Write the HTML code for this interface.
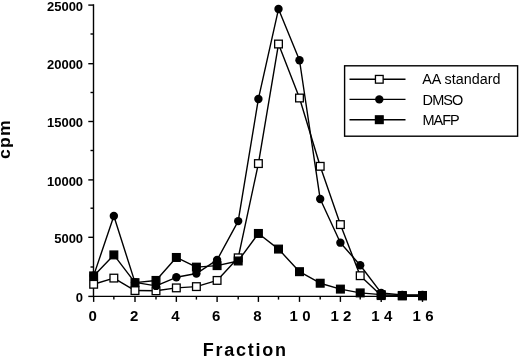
<!DOCTYPE html>
<html><head><meta charset="utf-8"><title>Fraction cpm chart</title>
<style>
html,body{margin:0;padding:0;background:#fff;}
body{width:520px;height:358px;overflow:hidden;}
svg{display:block;}
text{font-family:"Liberation Sans",Arial,Helvetica,sans-serif;fill:#000;}
.b{font-weight:bold;}
</style></head><body>
<svg width="520" height="358" viewBox="0 0 520 358">
<rect width="520" height="358" fill="#fff"/>

<g stroke="#000" stroke-width="1.4" fill="none" stroke-linecap="butt">
<path d="M93.5 4.35 V296.4 H423.15"/>
<path d="M88.3 296.40 H93.5"/>
<path d="M90.5 267.00 H93.5"/>
<path d="M88.3 237.30 H93.5"/>
<path d="M90.5 208.20 H93.5"/>
<path d="M88.3 179.90 H93.5"/>
<path d="M90.5 150.50 H93.5"/>
<path d="M88.3 121.50 H93.5"/>
<path d="M90.5 92.50 H93.5"/>
<path d="M88.3 63.70 H93.5"/>
<path d="M90.5 34.00 H93.5"/>
<path d="M88.3 5.10 H93.5"/>
<path d="M93.65 296.4 V301.9"/>
<path d="M113.85 296.4 V299.59999999999997"/>
<path d="M135.00 296.4 V301.9"/>
<path d="M156.00 296.4 V299.59999999999997"/>
<path d="M176.35 296.4 V301.9"/>
<path d="M196.40 296.4 V299.59999999999997"/>
<path d="M217.10 296.4 V301.9"/>
<path d="M238.20 296.4 V299.59999999999997"/>
<path d="M258.40 296.4 V301.9"/>
<path d="M278.50 296.4 V299.59999999999997"/>
<path d="M299.50 296.4 V301.9"/>
<path d="M320.20 296.4 V299.59999999999997"/>
<path d="M340.40 296.4 V301.9"/>
<path d="M360.20 296.4 V299.59999999999997"/>
<path d="M381.20 296.4 V301.9"/>
<path d="M402.30 296.4 V299.59999999999997"/>
<path d="M422.50 296.4 V301.9"/>
</g>
<text class="b" x="83.1" y="302.10" font-size="13" text-anchor="end">0</text>
<text class="b" x="83.1" y="243.00" font-size="13" text-anchor="end">5000</text>
<text class="b" x="83.1" y="185.60" font-size="13" text-anchor="end">10000</text>
<text class="b" x="83.1" y="127.20" font-size="13" text-anchor="end">15000</text>
<text class="b" x="83.1" y="69.40" font-size="13" text-anchor="end">20000</text>
<text class="b" x="83.1" y="10.80" font-size="13" text-anchor="end">25000</text>
<text class="b" x="92.75" y="320.8" font-size="15" text-anchor="middle">0</text>
<text class="b" x="134.10" y="320.8" font-size="15" text-anchor="middle">2</text>
<text class="b" x="175.45" y="320.8" font-size="15" text-anchor="middle">4</text>
<text class="b" x="216.20" y="320.8" font-size="15" text-anchor="middle">6</text>
<text class="b" x="257.50" y="320.8" font-size="15" text-anchor="middle">8</text>
<text class="b" x="300.50" y="320.8" font-size="15" text-anchor="middle" letter-spacing="4.3" dx="1.7">10</text>
<text class="b" x="341.40" y="320.8" font-size="15" text-anchor="middle" letter-spacing="4.3" dx="1.7">12</text>
<text class="b" x="382.20" y="320.8" font-size="15" text-anchor="middle" letter-spacing="4.3" dx="1.7">14</text>
<text class="b" x="423.50" y="320.8" font-size="15" text-anchor="middle" letter-spacing="4.3" dx="1.7">16</text>
<text class="b" x="245.2" y="355.8" font-size="18" text-anchor="middle" letter-spacing="1.75">Fraction</text>
<text class="b" transform="translate(10.2,139) rotate(-90) scale(1.04,1)" font-size="17" text-anchor="middle" letter-spacing="1.2">cpm</text>
<polyline points="93.65,284.28 113.85,278.10 135.00,290.57 156.00,290.81 176.35,287.89 196.40,286.61 217.10,280.43 238.20,257.82 258.40,163.58 278.50,44.02 299.50,98.01 320.20,166.32 340.40,224.60 360.20,275.71 381.20,295.58 402.30,295.93 422.50,295.93" fill="none" stroke="#000" stroke-width="1.4" stroke-linejoin="round"/>
<rect x="89.80" y="280.43" width="7.7" height="7.7" fill="#fff" stroke="#000" stroke-width="1.3"/>
<rect x="110.00" y="274.25" width="7.7" height="7.7" fill="#fff" stroke="#000" stroke-width="1.3"/>
<rect x="131.15" y="286.72" width="7.7" height="7.7" fill="#fff" stroke="#000" stroke-width="1.3"/>
<rect x="152.15" y="286.96" width="7.7" height="7.7" fill="#fff" stroke="#000" stroke-width="1.3"/>
<rect x="172.50" y="284.04" width="7.7" height="7.7" fill="#fff" stroke="#000" stroke-width="1.3"/>
<rect x="192.55" y="282.76" width="7.7" height="7.7" fill="#fff" stroke="#000" stroke-width="1.3"/>
<rect x="213.25" y="276.58" width="7.7" height="7.7" fill="#fff" stroke="#000" stroke-width="1.3"/>
<rect x="234.35" y="253.97" width="7.7" height="7.7" fill="#fff" stroke="#000" stroke-width="1.3"/>
<rect x="254.55" y="159.73" width="7.7" height="7.7" fill="#fff" stroke="#000" stroke-width="1.3"/>
<rect x="274.65" y="40.17" width="7.7" height="7.7" fill="#fff" stroke="#000" stroke-width="1.3"/>
<rect x="295.65" y="94.16" width="7.7" height="7.7" fill="#fff" stroke="#000" stroke-width="1.3"/>
<rect x="316.35" y="162.47" width="7.7" height="7.7" fill="#fff" stroke="#000" stroke-width="1.3"/>
<rect x="336.55" y="220.75" width="7.7" height="7.7" fill="#fff" stroke="#000" stroke-width="1.3"/>
<rect x="356.35" y="271.86" width="7.7" height="7.7" fill="#fff" stroke="#000" stroke-width="1.3"/>
<rect x="377.35" y="291.73" width="7.7" height="7.7" fill="#fff" stroke="#000" stroke-width="1.3"/>
<rect x="398.45" y="292.08" width="7.7" height="7.7" fill="#fff" stroke="#000" stroke-width="1.3"/>
<rect x="418.65" y="292.08" width="7.7" height="7.7" fill="#fff" stroke="#000" stroke-width="1.3"/>
<polyline points="93.65,275.65 113.85,216.03 135.00,282.41 156.00,285.91 176.35,277.28 196.40,273.55 217.10,259.92 238.20,221.10 258.40,98.95 278.50,9.03 299.50,60.25 320.20,199.07 340.40,242.67 360.20,265.28 381.20,292.90 402.30,294.94 422.50,295.00" fill="none" stroke="#000" stroke-width="1.4" stroke-linejoin="round"/>
<circle cx="93.65" cy="275.65" r="4.2" fill="#000"/>
<circle cx="113.85" cy="216.03" r="4.2" fill="#000"/>
<circle cx="135.00" cy="282.41" r="4.2" fill="#000"/>
<circle cx="156.00" cy="285.91" r="4.2" fill="#000"/>
<circle cx="176.35" cy="277.28" r="4.2" fill="#000"/>
<circle cx="196.40" cy="273.55" r="4.2" fill="#000"/>
<circle cx="217.10" cy="259.92" r="4.2" fill="#000"/>
<circle cx="238.20" cy="221.10" r="4.2" fill="#000"/>
<circle cx="258.40" cy="98.95" r="4.2" fill="#000"/>
<circle cx="278.50" cy="9.03" r="4.2" fill="#000"/>
<circle cx="299.50" cy="60.25" r="4.2" fill="#000"/>
<circle cx="320.20" cy="199.07" r="4.2" fill="#000"/>
<circle cx="340.40" cy="242.67" r="4.2" fill="#000"/>
<circle cx="360.20" cy="265.28" r="4.2" fill="#000"/>
<circle cx="381.20" cy="292.90" r="4.2" fill="#000"/>
<circle cx="402.30" cy="294.94" r="4.2" fill="#000"/>
<circle cx="422.50" cy="295.00" r="4.2" fill="#000"/>
<polyline points="93.65,275.89 113.85,254.90 135.00,282.65 156.00,280.43 176.35,257.47 196.40,267.14 217.10,265.63 238.20,260.97 258.40,233.46 278.50,249.08 299.50,271.69 320.20,283.23 340.40,289.11 360.20,292.90 381.20,294.65 402.30,295.47 422.50,295.47" fill="none" stroke="#000" stroke-width="1.4" stroke-linejoin="round"/>
<rect x="89.80" y="272.04" width="7.7" height="7.7" fill="#000" stroke="#000" stroke-width="1.3"/>
<rect x="110.00" y="251.05" width="7.7" height="7.7" fill="#000" stroke="#000" stroke-width="1.3"/>
<rect x="131.15" y="278.80" width="7.7" height="7.7" fill="#000" stroke="#000" stroke-width="1.3"/>
<rect x="152.15" y="276.58" width="7.7" height="7.7" fill="#000" stroke="#000" stroke-width="1.3"/>
<rect x="172.50" y="253.62" width="7.7" height="7.7" fill="#000" stroke="#000" stroke-width="1.3"/>
<rect x="192.55" y="263.29" width="7.7" height="7.7" fill="#000" stroke="#000" stroke-width="1.3"/>
<rect x="213.25" y="261.78" width="7.7" height="7.7" fill="#000" stroke="#000" stroke-width="1.3"/>
<rect x="234.35" y="257.12" width="7.7" height="7.7" fill="#000" stroke="#000" stroke-width="1.3"/>
<rect x="254.55" y="229.61" width="7.7" height="7.7" fill="#000" stroke="#000" stroke-width="1.3"/>
<rect x="274.65" y="245.23" width="7.7" height="7.7" fill="#000" stroke="#000" stroke-width="1.3"/>
<rect x="295.65" y="267.84" width="7.7" height="7.7" fill="#000" stroke="#000" stroke-width="1.3"/>
<rect x="316.35" y="279.38" width="7.7" height="7.7" fill="#000" stroke="#000" stroke-width="1.3"/>
<rect x="336.55" y="285.26" width="7.7" height="7.7" fill="#000" stroke="#000" stroke-width="1.3"/>
<rect x="356.35" y="289.05" width="7.7" height="7.7" fill="#000" stroke="#000" stroke-width="1.3"/>
<rect x="377.35" y="290.80" width="7.7" height="7.7" fill="#000" stroke="#000" stroke-width="1.3"/>
<rect x="398.45" y="291.62" width="7.7" height="7.7" fill="#000" stroke="#000" stroke-width="1.3"/>
<rect x="418.65" y="291.62" width="7.7" height="7.7" fill="#000" stroke="#000" stroke-width="1.3"/>
<rect x="344.6" y="65.8" width="173" height="70.4" fill="#fff" stroke="#000" stroke-width="1.4"/>
<path d="M349.5 79.3 H405.5" stroke="#000" stroke-width="1.4"/>
<path d="M349.5 99.4 H405.5" stroke="#000" stroke-width="1.4"/>
<path d="M349.5 119.7 H405.5" stroke="#000" stroke-width="1.4"/>
<rect x="375.45" y="75.45" width="7.7" height="7.7" fill="#fff" stroke="#000" stroke-width="1.3"/>
<circle cx="379.30" cy="99.40" r="4.2" fill="#000"/>
<rect x="375.45" y="115.85" width="7.7" height="7.7" fill="#000" stroke="#000" stroke-width="1.3"/>
<text x="422.3" y="84.3" font-size="14.35">AA standard</text>
<text x="422.6" y="104.7" font-size="14.5" letter-spacing="-0.9">DMSO</text>
<text x="422.6" y="124.9" font-size="14.5" letter-spacing="-1.1">MAFP</text>
</svg></body></html>
